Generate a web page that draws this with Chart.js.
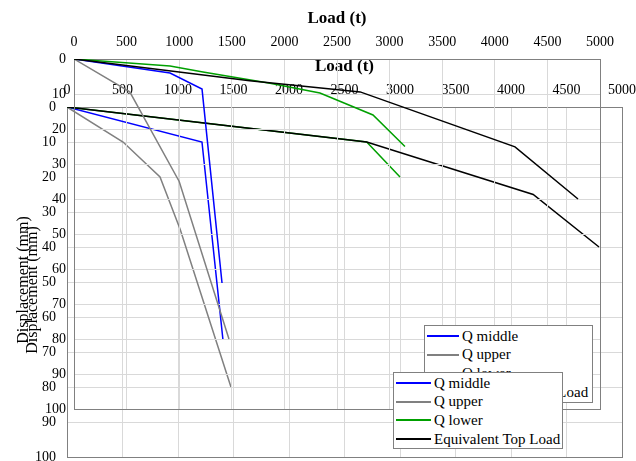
<!DOCTYPE html>
<html>
<head>
<meta charset="utf-8">
<script src="https://cdn.jsdelivr.net/npm/chart.js@4.4.1/dist/chart.umd.min.js"></script>
<style>
  body { margin: 0; background: #fff; }
  #wrap { position: relative; width: 636px; height: 461px; overflow: hidden; }
  #wrap canvas { position: absolute; left: 0; top: 0; }
  .legend {
    position: absolute; background: #fff; border: 1px solid #808080;
    font: 15px "Liberation Serif", serif; color: #000; box-sizing: border-box;
    padding-top: 1px;
  }
  .legend .row { display: flex; align-items: center; height: 18.6px; white-space: nowrap; }
  .legend .sw { height: 0; border-top: 2px solid; margin-right: 3px; }
</style>
</head>
<body>
<div id="wrap">
  <canvas id="front" width="636" height="461"></canvas>
  <canvas id="back" width="636" height="461"></canvas>
  <div id="backLegend" class="legend"></div>
  <div id="frontLegend" class="legend"></div>
</div>
<script>
// series names and colours
const seriesNames = ["Q middle", "Q upper", "Q lower", "Equivalent Top Load"];
const seriesColors = ["#0000ff", "#808080", "#00a000", "#000000"];

// axis ticks
const loadTicks = [0, 500, 1000, 1500, 2000, 2500, 3000, 3500, 4000, 4500, 5000];
const dispTicks = [0, 10, 20, 30, 40, 50, 60, 70, 80, 90, 100];

// back chart (the smaller one, drawn higher up)
const backMiddleLoad = [0, 913, 1217, 1407];
const backMiddleDisp = [0, 4, 8.6, 64];
const backUpperLoad = [0, 530, 1000, 1473];
const backUpperDisp = [0, 9.4, 35, 80];
const backLowerLoad = [0, 913, 1226, 1863, 2338, 2842, 3146];
const backLowerDisp = [0, 2, 3.7, 6.9, 9.7, 16, 25];
const backTopLoad = [0, 1670, 2720, 4192, 4791];
const backTopDisp = [0, 6.2, 9.4, 25.1, 40];

// front chart (the larger one, drawn lower down)
const frontMiddleLoad = [0, 1216, 1405];
const frontMiddleDisp = [0, 10, 66.5];
const frontUpperLoad = [0, 505, 838, 1020, 1477];
const frontUpperDisp = [0, 10, 20, 35, 80];
const frontLowerLoad = [0, 2700, 3000];
const frontLowerDisp = [0, 10, 20];
const frontTopLoad = [0, 2700, 4200, 4793];
const frontTopDisp = [0, 10, 25, 40];

const FONT = "'Liberation Serif', 'Times New Roman', serif";

function pts(xs, ys) {
  return xs.map((x, i) => ({ x: x, y: ys[i] }));
}

function noEdgePadding(s) {
  s.paddingLeft = 0;
  s.paddingRight = 0;
  s.paddingTop = 0;
  s.paddingBottom = 0;
}

// grey frame round the plot area
const frame = {
  id: "frame",
  beforeDatasetsDraw(chart) {
    const a = chart.chartArea;
    const ctx = chart.ctx;
    ctx.save();
    ctx.strokeStyle = "#808080";
    ctx.lineWidth = 1;
    ctx.strokeRect(Math.round(a.left) + 0.5, Math.round(a.top) + 0.5,
      Math.round(a.right - a.left), Math.round(a.bottom - a.top));
    ctx.restore();
  }
};

// y axis title, placed by hand like in the reference
const yTitle = {
  id: "yTitle",
  afterDraw(chart, args, opts) {
    const ctx = chart.ctx;
    ctx.save();
    ctx.translate(opts.x, opts.y);
    ctx.rotate(-Math.PI / 2);
    ctx.font = "16px " + FONT;
    ctx.fillStyle = "#000";
    ctx.textAlign = "center";
    ctx.textBaseline = "middle";
    ctx.fillText(opts.text, 0, 0);
    ctx.restore();
  }
};

function makeChart(id, series, g) {
  const datasets = series.map((s, i) => ({
    label: seriesNames[i],
    data: pts(s[0], s[1]),
    borderColor: seriesColors[i],
    backgroundColor: seriesColors[i],
    borderWidth: 1.5,
    showLine: true,
    pointRadius: 0,
    tension: 0,
    // later series sit on top, as in the reference
    order: series.length - i
  }));
  const pad = { left: 0, top: g.padTop, right: 636 - g.right, bottom: 461 - g.bottom };
  return new Chart(document.getElementById(id), {
    type: "scatter",
    data: { datasets: datasets },
    options: {
      responsive: false,
      animation: false,
      layout: { padding: pad },
      plugins: {
        legend: { display: false },
        tooltip: { enabled: false },
        yTitle: { text: "Displacement (mm)", x: g.titleX, y: g.titleY }
      },
      scales: {
        x: {
          type: "linear",
          position: "top",
          min: 0,
          max: 5000,
          afterBuildTicks: (s) => { s.ticks = loadTicks.map(v => ({ value: v })); },
          ticks: {
            color: "#000", font: { family: FONT, size: 14 }, padding: 8, maxRotation: 0,
            callback: (v) => String(v)
          },
          grid: { color: "#d9d9d9", drawTicks: false },
          border: { display: false },
          title: {
            display: true, text: "Load (t)", color: "#000",
            font: { family: FONT, size: 17, weight: "bold" },
            padding: { top: 8, bottom: 0 }
          },
          afterFit: (s) => { s.height = g.top - g.padTop; noEdgePadding(s); }
        },
        y: {
          type: "linear",
          reverse: true,
          min: 0,
          max: 100,
          afterBuildTicks: (s) => { s.ticks = dispTicks.map(v => ({ value: v })); },
          ticks: {
            color: "#000", font: { family: FONT, size: 14 }, padding: g.yPad,
            callback: (v) => String(v)
          },
          grid: { color: "#d9d9d9", drawTicks: false },
          border: { display: false },
          afterFit: (s) => { s.width = g.left; noEdgePadding(s); }
        }
      }
    },
    plugins: [frame, yTitle]
  });
}

function htmlLegend(chart, elId, box) {
  const el = document.getElementById(elId);
  el.style.left = box.left + "px";
  el.style.top = box.top + "px";
  el.style.width = box.width + "px";
  el.style.height = box.height + "px";
  el.style.paddingLeft = box.inset + "px";
  chart.data.datasets.forEach(ds => {
    const row = document.createElement("div");
    row.className = "row";
    const sw = document.createElement("span");
    sw.className = "sw";
    sw.style.width = box.swatch + "px";
    sw.style.borderTopColor = ds.borderColor;
    const tx = document.createElement("span");
    tx.textContent = ds.label;
    row.appendChild(sw);
    row.appendChild(tx);
    el.appendChild(row);
  });
}

const frontChart = makeChart("front", [
  [frontMiddleLoad, frontMiddleDisp],
  [frontUpperLoad, frontUpperDisp],
  [frontLowerLoad, frontLowerDisp],
  [frontTopLoad, frontTopDisp]
], { padTop: 48, top: 107, left: 67, right: 622, bottom: 457, yPad: 11, titleX: 33, titleY: 290 });

const backChart = makeChart("back", [
  [backMiddleLoad, backMiddleDisp],
  [backUpperLoad, backUpperDisp],
  [backLowerLoad, backLowerDisp],
  [backTopLoad, backTopDisp]
], { padTop: 0, top: 59, left: 74, right: 600, bottom: 409, yPad: 8, titleX: 24, titleY: 280 });

htmlLegend(backChart, "backLegend", { left: 424, top: 325, width: 169, height: 78, inset: 2, swatch: 32 });
htmlLegend(frontChart, "frontLegend", { left: 393, top: 372, width: 170, height: 77, inset: 2, swatch: 35 });
</script>
</body>
</html>
